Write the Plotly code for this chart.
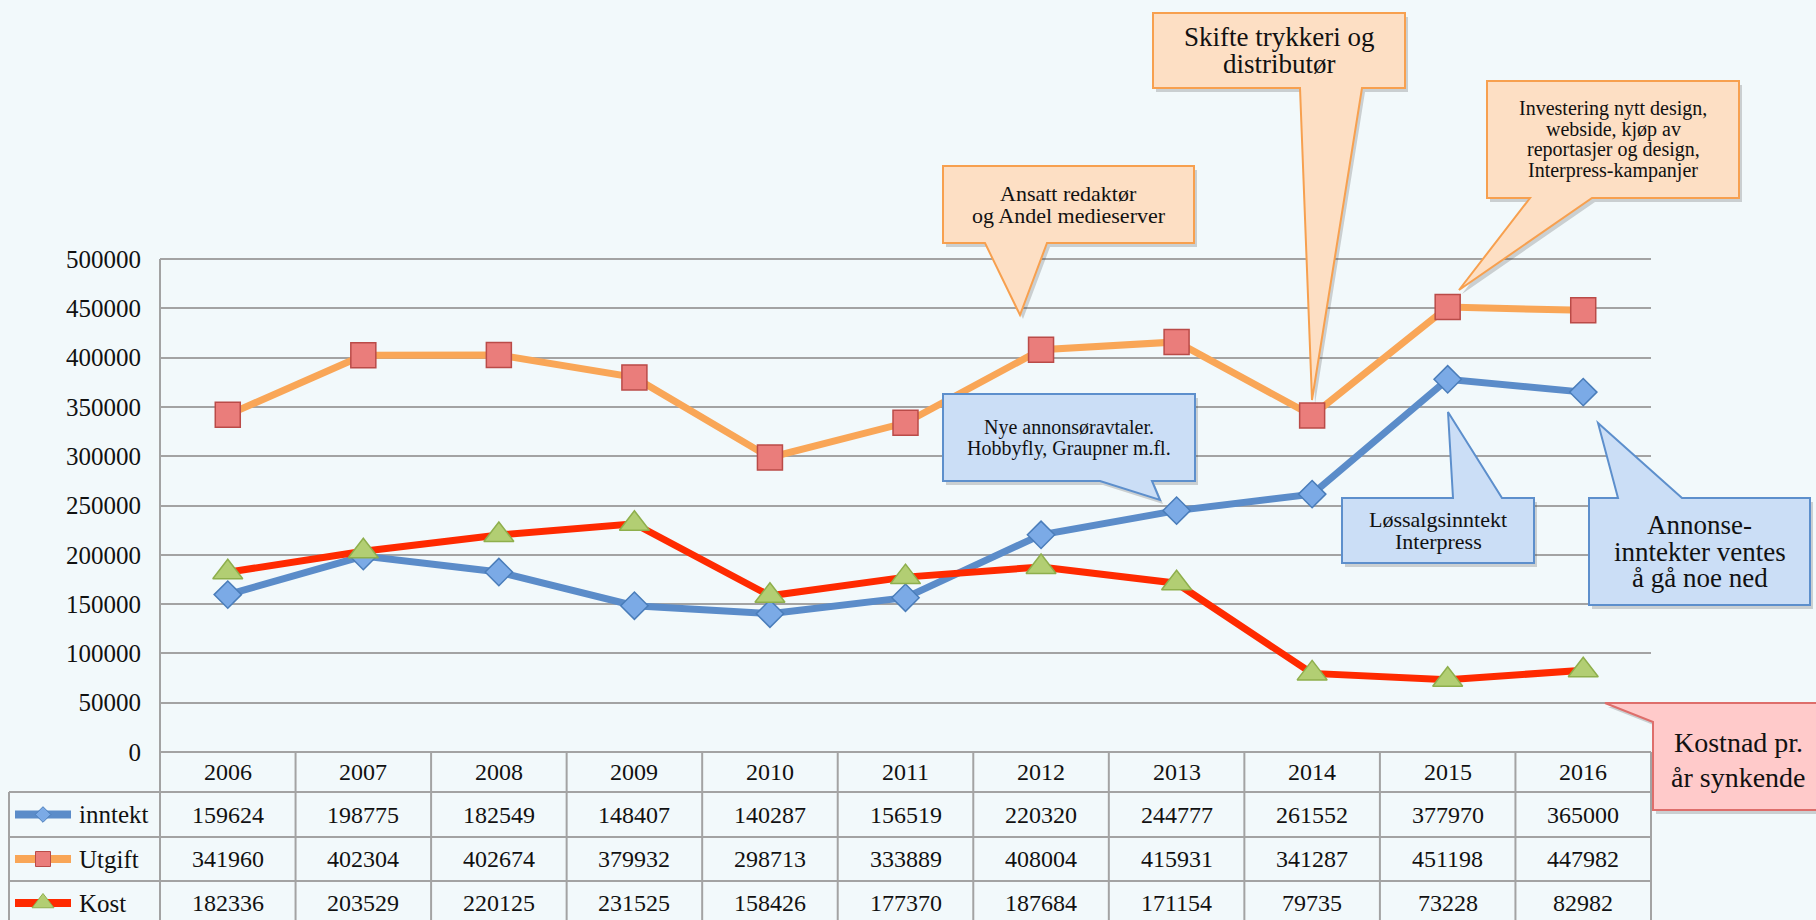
import plotly.graph_objects as go

# data
years = [2006, 2007, 2008, 2009, 2010, 2011, 2012, 2013, 2014, 2015, 2016]
inntekt = [159624, 198775, 182549, 148407, 140287, 156519, 220320, 244777, 261552, 377970, 365000]
utgift = [341960, 402304, 402674, 379932, 298713, 333889, 408004, 415931, 341287, 451198, 447982]
kost = [182336, 203529, 220125, 231525, 158426, 177370, 187684, 171154, 79735, 73228, 82982]
series_names = ['inntekt', 'Utgift', 'Kost']
y_ticks = [0, 50000, 100000, 150000, 200000, 250000, 300000, 350000, 400000, 450000, 500000]

# page geometry (pixels)
W, H = 1816, 920
PLOT_L, PLOT_R = 160, 1651
Y0_PX, YTOP_PX = 752, 259
FONT = 'Liberation Serif, Times New Roman, serif'
BG = '#F2F9FB'
GRID = '#A3A3A3'

col_w = (PLOT_R - PLOT_L) / len(years)
x_lo, x_hi = years[0] - 0.5, years[-1] + 0.5
unit = y_ticks[-1] / (Y0_PX - YTOP_PX)


def px2x(px):
    return x_lo + (px - PLOT_L) / col_w


def py2y(py):
    return (Y0_PX - py) * unit


y_range = [py2y(H), py2y(0)]

styles = {
    'inntekt': dict(line='#5B8CC9', symbol='diamond', size=21, fill='#7BAAE6', edge='#4A7DBA', lsize=12),
    'Utgift': dict(line='#F9A657', symbol='square', size=25, fill='#EA7D7B', edge='#BA4B48', lsize=15),
    'Kost': dict(line='#FF2A00', symbol='triangle-up', size=26, fill='#B2CE73', edge='#8EAF4C', lsize=19),
}
values = {'inntekt': inntekt, 'Utgift': utgift, 'Kost': kost}

fig = go.Figure()

# lines first, markers on top
for name in series_names:
    st = styles[name]
    fig.add_trace(go.Scatter(x=years, y=values[name], mode='lines', name=name,
                             line=dict(color=st['line'], width=7), showlegend=False,
                             xaxis='x', yaxis='y'))
for name in series_names:
    st = styles[name]
    fig.add_trace(go.Scatter(x=years, y=values[name], mode='markers', name=name,
                             marker=dict(symbol=st['symbol'], size=st['size'], color=st['fill'],
                                         line=dict(color=st['edge'], width=1.5)),
                             showlegend=False, xaxis='x', yaxis='y'))

shapes = []
annotations = []

# ---- data table under the plot
row_h = [40, 45, 44, 44]
row_top = [Y0_PX]
for h in row_h:
    row_top.append(row_top[-1] + h)
row_mid = [(row_top[i] + row_top[i + 1]) / 2 for i in range(len(row_h))]
LEG_L = 9

line_style = dict(color=GRID, width=2)
# y axis line continuing down as the first column border
shapes.append(dict(type='line', xref='x2', yref='y2', x0=x_lo, x1=x_lo,
                   y0=y_ticks[-1], y1=y_range[0], line=line_style, layer='below'))
for yr in years:
    shapes.append(dict(type='line', xref='x2', yref='y2', x0=yr + 0.5, x1=yr + 0.5,
                       y0=0, y1=y_range[0], line=line_style, layer='below'))
for py in row_top[1:]:
    shapes.append(dict(type='line', xref='x2', yref='y2', x0=px2x(LEG_L), x1=x_hi,
                       y0=py2y(py), y1=py2y(py), line=line_style, layer='below'))
shapes.append(dict(type='line', xref='x2', yref='y2', x0=px2x(LEG_L), x1=px2x(LEG_L),
                   y0=py2y(row_top[1]), y1=y_range[0], line=line_style, layer='below'))

tfont = dict(family=FONT, size=24, color='#111111')
for yr in years:
    annotations.append(dict(x=yr, y=py2y(row_mid[0]), xref='x2', yref='y2', text=str(yr),
                            showarrow=False, font=tfont))
for i, name in enumerate(series_names):
    ym = py2y(row_mid[i + 1])
    for yr, v in zip(years, values[name]):
        annotations.append(dict(x=yr, y=ym, xref='x2', yref='y2', text=str(v),
                                showarrow=False, font=tfont))
    annotations.append(dict(x=px2x(77), y=ym, xref='x2', yref='y2', text=name, xanchor='left',
                            showarrow=False, font=dict(family=FONT, size=25, color='#111111')))
    # legend glyph: short line with the series marker
    st = styles[name]
    fig.add_trace(go.Scatter(x=[px2x(15), px2x(71)], y=[ym, ym], mode='lines',
                             line=dict(color=st['line'], width=8), showlegend=False,
                             xaxis='x2', yaxis='y2', hoverinfo='skip'))
    fig.add_trace(go.Scatter(x=[px2x(43)], y=[ym], mode='markers',
                             marker=dict(symbol=st['symbol'], size=st['lsize'], color=st['fill'],
                                         line=dict(color=st['edge'], width=1)),
                             showlegend=False, xaxis='x2', yaxis='y2', hoverinfo='skip'))

# ---- speech bubble callouts (pixel layout)
callout_colors = {
    'orange': ('#FDDFC4', '#F7A04F'),
    'blue': ('#CBDEF6', '#5D8FCC'),
    'red': ('#FFCACA', '#DE6E6B'),
}
callouts = [
    dict(lines=['Ansatt redaktør', 'og Andel medieserver'], size=22, gap=22,
         box=(943, 1194, 166, 243), side='bottom', base=(985, 1047), tip=(1020, 315), kind='orange'),
    dict(lines=['Skifte trykkeri og', 'distributør'], size=27, gap=27,
         box=(1153, 1405, 13, 88), side='bottom', base=(1300, 1362), tip=(1312, 400), kind='orange'),
    dict(lines=['Investering nytt design,', 'webside, kjøp av', 'reportasjer og design,',
                'Interpress-kampanjer'], size=20, gap=20.7,
         box=(1487, 1739, 81, 198), side='bottom', base=(1530, 1592), tip=(1459, 290), kind='orange'),
    dict(lines=['Nye annonsøravtaler.', 'Hobbyfly, Graupner m.fl.'], size=20, gap=21,
         box=(943, 1195, 394, 481), side='bottom', base=(1100, 1152), tip=(1160, 500), kind='blue'),
    dict(lines=['Løssalgsinntekt', 'Interpress'], size=22, gap=22,
         box=(1342, 1534, 498, 563), side='top', base=(1453, 1502), tip=(1448, 412), kind='blue'),
    dict(lines=['Annonse-', 'inntekter ventes', 'å gå noe ned'], size=27, gap=26.5,
         box=(1589, 1810, 498, 605), side='top', base=(1618, 1682), tip=(1598, 423), kind='blue'),
    dict(lines=['Kostnad pr.', 'år synkende'], size=28, gap=35, cx=1738, cy=760,
         box=(1653, 1830, 703, 810), side='left', base=(703, 722), tip=(1605, 703), kind='red'),
]


def bubble_points(c):
    x0, x1, t, b = c['box']
    b0, b1 = c['base']
    tip = c['tip']
    if c['side'] == 'bottom':
        return [(x0, t), (x1, t), (x1, b), (b1, b), tip, (b0, b), (x0, b)]
    if c['side'] == 'top':
        return [(x0, t), (b0, t), tip, (b1, t), (x1, t), (x1, b), (x0, b)]
    return [(x0, t), (x1, t), (x1, b), (x0, b), (x0, b1), tip, (x0, b0)]


def to_path(pts, dx=0, dy=0):
    parts = ['{:.5f},{:.2f}'.format(px2x(px + dx), py2y(py + dy)) for px, py in pts]
    return 'M' + 'L'.join(parts) + 'Z'


for c in callouts:
    fill, edge = callout_colors[c['kind']]
    pts = bubble_points(c)
    # soft drop shadow, then the bubble
    shapes.append(dict(type='path', xref='x2', yref='y2', path=to_path(pts, 3, 4),
                       fillcolor='rgba(60,60,60,0.22)', line=dict(width=0), layer='above'))
    shapes.append(dict(type='path', xref='x2', yref='y2', path=to_path(pts),
                       fillcolor=fill, line=dict(color=edge, width=2), layer='above'))
    x0, x1, t, b = c['box']
    cx = c.get('cx', (x0 + x1) / 2)
    cy = c.get('cy', (t + b) / 2)
    n = len(c['lines'])
    for k, txt in enumerate(c['lines']):
        ly = cy + (k - (n - 1) / 2) * c['gap']
        annotations.append(dict(x=px2x(cx), y=py2y(ly), xref='x2', yref='y2', text=txt,
                                showarrow=False,
                                font=dict(family=FONT, size=c['size'], color='#111111')))

fig.update_layout(
    width=W, height=H, autosize=False,
    margin=dict(l=0, r=0, t=0, b=0, pad=0),
    paper_bgcolor=BG, plot_bgcolor='rgba(0,0,0,0)',
    showlegend=False,
    xaxis=dict(domain=[PLOT_L / W, PLOT_R / W], range=[x_lo, x_hi], visible=False,
               anchor='y', fixedrange=True),
    yaxis=dict(domain=[0, 1], range=y_range, tickvals=y_ticks,
               ticktext=[str(v) for v in y_ticks], showgrid=True, gridcolor=GRID, gridwidth=2,
               zeroline=False, showline=False, ticks='', ticklabelstandoff=18,
               tickfont=dict(family=FONT, size=25, color='#111111'), anchor='x', fixedrange=True),
    xaxis2=dict(domain=[0, 1], range=[px2x(0), px2x(W)], visible=False, anchor='y2'),
    yaxis2=dict(domain=[0, 1], range=y_range, visible=False, anchor='x2'),
    shapes=shapes,
    annotations=annotations,
)

fig.write_html("out.html", config={'displayModeBar': False},
               post_script="document.body.style.margin='0';")
